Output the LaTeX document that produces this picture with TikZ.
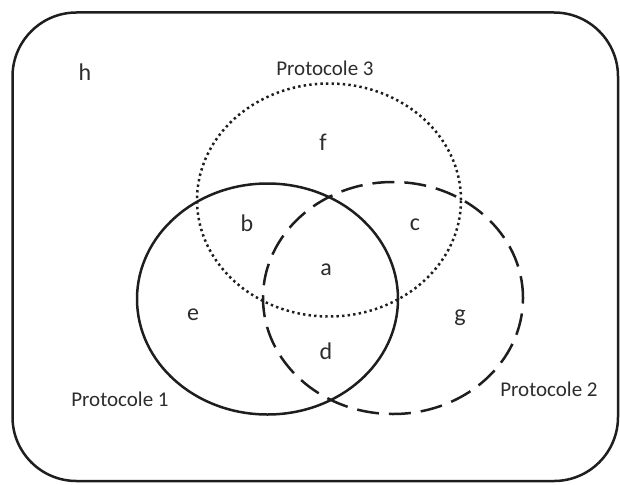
\documentclass[tikz,border=0pt]{standalone}
\usepackage{fontspec}
\setmainfont{Carlito}
\definecolor{ink}{RGB}{30,30,30}
\definecolor{txt}{RGB}{45,45,45}
\begin{document}
\begin{tikzpicture}[x=1pt,y=-1pt,
  outline/.style={draw=ink,line width=2.5pt},
  setsolid/.style={outline},
  setdashed/.style={outline,dash pattern=on 22pt off 10pt},
  setdotted/.style={outline,dash pattern=on 2.4pt off 3.2pt},
  region/.style={font=\fontsize{24}{24}\selectfont,text=txt,inner sep=0pt},
  setname/.style={font=\fontsize{21}{21}\selectfont,text=txt,inner sep=0pt}]
  \useasboundingbox (0,0) rectangle (620,484);

  % universe
  \draw[outline,rounded corners=64pt] (12.5,12.5) rectangle (618,481);

  % the three sets
  \draw[setsolid]  (267.5,299) ellipse [x radius=130.5pt, y radius=115.5pt];
  \draw[setdashed] (393,298)   ellipse [x radius=130pt, y radius=116pt];
  \draw[setdotted] (329,200)   ellipse [x radius=132pt, y radius=116.5pt];

  % set names
  \node[setname] (n1) at (120,399) {Protocole 1};
  \node[setname] (n2) at (549,389) {Protocole 2};
  \node[setname] (n3) at (325,68)  {Protocole 3};

  % regions
  \node[region] (h) at (85,72)   {h};
  \node[region] (f) at (323,142) {f};
  \node[region] (b) at (247,223) {b};
  \node[region] (c) at (415,225) {c};
  \node[region] (a) at (326,270) {a};
  \node[region] (e) at (193,315) {e};
  \node[region] (g) at (460,318) {g};
  \node[region] (d) at (326,351) {d};
\end{tikzpicture}
\end{document}
